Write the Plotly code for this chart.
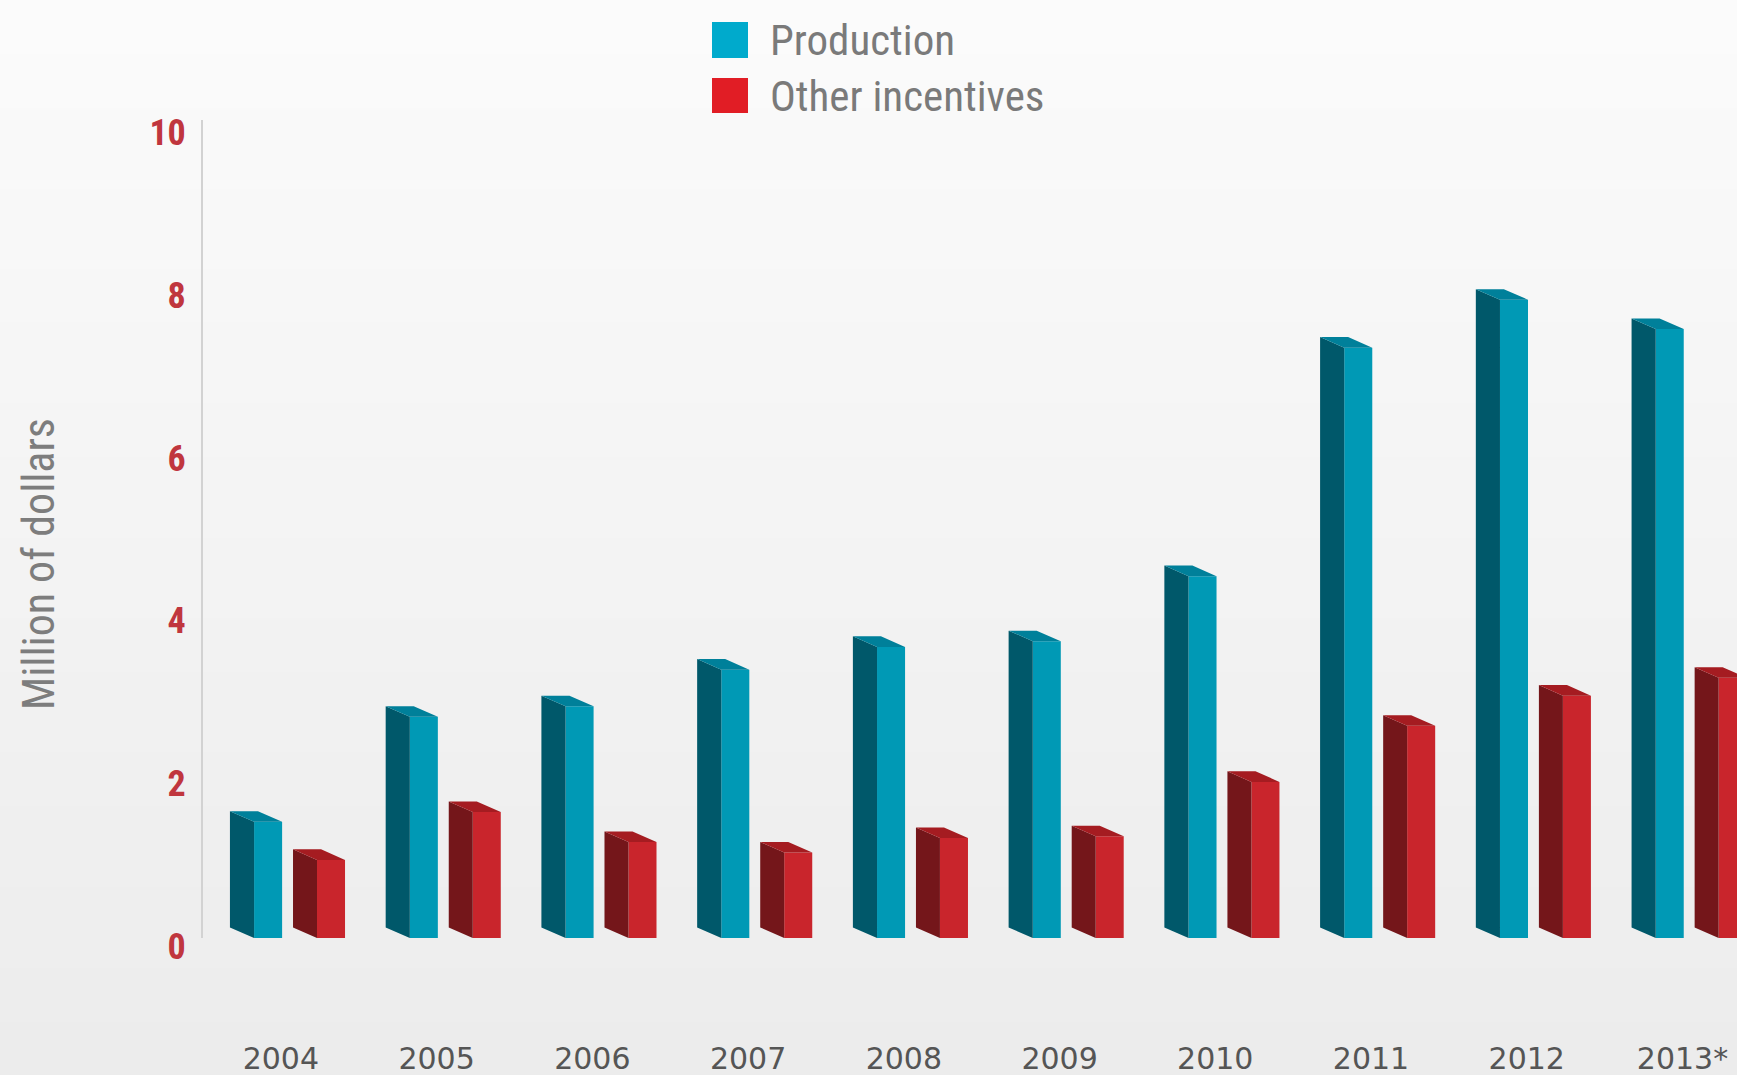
import plotly.graph_objects as go

# ---- data ----
years = ["2004", "2005", "2006", "2007", "2008", "2009", "2010", "2011", "2012", "2013*"]
production = [1.43, 2.72, 2.85, 3.30, 3.58, 3.65, 4.45, 7.26, 7.85, 7.49]
other_incentives = [0.96, 1.55, 1.18, 1.05, 1.23, 1.25, 1.92, 2.61, 2.98, 3.20]
series_names = ["Production", "Other incentives"]
y_title = "Million of dollars"
y_ticks = [0, 2, 4, 6, 8, 10]

# ---- style / geometry ----
W, H = 1737, 1075
ML, MR, MT, MB = 203, 0, 120, 137
PW, PH = W - ML - MR, H - MT - MB
XR = [-0.5, 9.35]
YR = [0, 10.06]
DEPTH = 0.13           # vertical 3D depth offset (y units)
FONT_NARROW = "Liberation Sans Narrow, Roboto Condensed, DejaVu Sans Condensed, Arial Narrow, sans-serif"

styles = [
    dict(side_x0=-0.327, front_x0=-0.172, front_w=0.18,
         front="#0099b5", side="#00586a", cap="#00809a", legend="#00aacc"),
    dict(side_x0=0.078, front_x0=0.232, front_w=0.18,
         front="#c9252c", side="#74161a", cap="#a51c21", legend="#e11d25"),
]

xpos = list(range(len(years)))
fig = go.Figure()

for vals, st, name in zip([production, other_incentives], styles, series_names):
    sx, sy, cx, cy = [], [], [], []
    for i, v in zip(xpos, vals):
        x0 = i + st["side_x0"]
        x1 = i + st["front_x0"]
        x2 = x1 + st["front_w"]
        sx += [x0, x1, x1, x0, x0, None]
        sy += [v + DEPTH, v, 0, DEPTH, v + DEPTH, None]
        cx += [x0, x0 + st["front_w"], x2, x1, x0, None]
        cy += [v + DEPTH, v + DEPTH, v, v, v + DEPTH, None]
    fig.add_trace(go.Scatter(x=sx, y=sy, mode="lines", fill="toself",
                             fillcolor=st["side"], line=dict(width=0, color=st["side"]),
                             hoverinfo="skip", showlegend=False))
    fig.add_trace(go.Bar(x=xpos, y=vals, name=name, width=st["front_w"],
                         offset=st["front_x0"], marker=dict(color=st["front"], line=dict(width=0)),
                         showlegend=False))
    fig.add_trace(go.Scatter(x=cx, y=cy, mode="lines", fill="toself",
                             fillcolor=st["cap"], line=dict(width=0, color=st["cap"]),
                             hoverinfo="skip", showlegend=False))

def px2paper_x(px):
    return (px - ML) / PW

def px2paper_y(py):
    return (H - MB - py) / PH

# background gradient bands (decoration)
shapes = []
nb = 40
for k in range(nb):
    t = k / (nb - 1)
    g = int(round(251 - (251 - 236) * t))
    y_top = H * k / nb
    y_bot = H * (k + 1) / nb + 1
    shapes.append(dict(type="rect", xref="paper", yref="paper", layer="below",
                       x0=px2paper_x(0), x1=px2paper_x(W),
                       y0=px2paper_y(y_bot), y1=px2paper_y(y_top),
                       fillcolor=f"rgb({g},{g},{g})", line=dict(width=0)))

# manual legend
annotations = []
leg_rows = [(22, 58), (78, 113)]
for (top, bot), st, name in zip(leg_rows, styles, series_names):
    shapes.append(dict(type="rect", xref="paper", yref="paper",
                       x0=px2paper_x(712), x1=px2paper_x(748),
                       y0=px2paper_y(bot), y1=px2paper_y(top),
                       fillcolor=st["legend"], line=dict(width=0)))
    annotations.append(dict(xref="paper", yref="paper", x=px2paper_x(768),
                            y=px2paper_y((top + bot) / 2), xanchor="left", yanchor="middle",
                            text=name, showarrow=False,
                            font=dict(family=FONT_NARROW, size=43, color="#7a7a7a")))

# y-axis title (placed as rotated annotation)
annotations.append(dict(xref="paper", yref="paper", x=px2paper_x(39), y=px2paper_y(564),
                        xanchor="center", yanchor="middle", textangle=-90, text=y_title,
                        showarrow=False,
                        font=dict(family=FONT_NARROW, size=44, color="#7d7d7d")))

fig.update_layout(
    width=W, height=H,
    margin=dict(l=ML, r=MR, t=MT, b=MB, pad=0, autoexpand=False),
    paper_bgcolor="#f3f3f3",
    plot_bgcolor="rgba(0,0,0,0)",
    barmode="overlay",
    showlegend=False,
    shapes=shapes,
    annotations=annotations,
    xaxis=dict(range=XR, tickvals=xpos, ticktext=years, showgrid=False, zeroline=False,
               showline=False, ticks="", ticklabelstandoff=100, automargin=False,
               tickfont=dict(family="DejaVu Sans, Verdana, sans-serif", size=30, color="#555555"),
               fixedrange=True),
    yaxis=dict(range=YR, tickvals=y_ticks, ticktext=[str(v) for v in y_ticks],
               showgrid=False, zeroline=False, showline=True, linecolor="#d2d2d2", linewidth=2,
               ticks="", ticklabelstandoff=8, ticklabelshift=8, automargin=False,
               tickfont=dict(family=FONT_NARROW, size=36, color="#c0363e", weight="bold"),
               fixedrange=True),
)

fig.write_html("out.html", config={"displayModeBar": False},
               post_script="document.body.style.margin='0';document.body.style.background='#f3f3f3';")
